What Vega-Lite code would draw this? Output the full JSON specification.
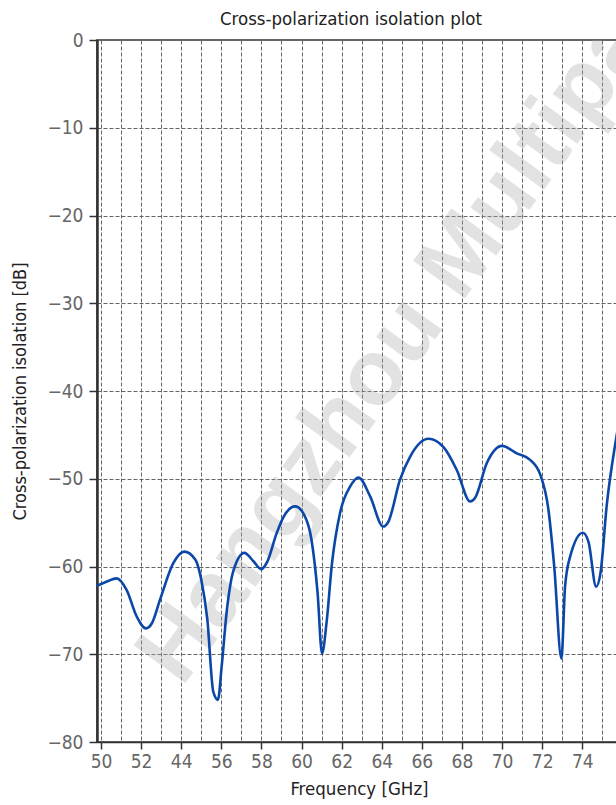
{
  "$schema": "https://vega.github.io/schema/vega-lite/v6.json",
  "width": 524,
  "height": 702,
  "autosize": {"type": "none"},
  "padding": {"left": 97, "top": 40, "right": 0, "bottom": 63},
  "title": {"text": "Cross-polarization isolation plot", "font": "Liberation Sans Narrow, DejaVu Sans Condensed, sans-serif", "fontSize": 18.5, "fontWeight": "normal", "color": "#222222", "anchor": "middle", "offset": 3, "dx": -8},
  "config": {
    "view": {"stroke": "#333333", "strokeWidth": 1.5},
    "font": "Liberation Sans Narrow, DejaVu Sans Condensed, sans-serif"
  },
  "data": {"values": [
    {"f": 49.79, "db": -62.2}, {"f": 50.3, "db": -61.7}, {"f": 50.78, "db": -61.35}, {"f": 51.28, "db": -62.7},
    {"f": 51.78, "db": -65.7}, {"f": 52.24, "db": -67.05}, {"f": 52.53, "db": -66.5}, {"f": 52.94, "db": -63.8},
    {"f": 53.61, "db": -59.6}, {"f": 54.15, "db": -58.3}, {"f": 54.7, "db": -59.2}, {"f": 55.0, "db": -61.5},
    {"f": 55.3, "db": -66.0}, {"f": 55.6, "db": -74.3}, {"f": 55.83, "db": -75.2}, {"f": 56.02, "db": -71.3},
    {"f": 56.27, "db": -65.1}, {"f": 56.6, "db": -60.5}, {"f": 57.15, "db": -58.45}, {"f": 57.6, "db": -59.4},
    {"f": 57.98, "db": -60.3}, {"f": 58.26, "db": -59.6}, {"f": 58.76, "db": -56.2}, {"f": 59.09, "db": -54.4},
    {"f": 59.68, "db": -53.15}, {"f": 60.15, "db": -54.2}, {"f": 60.5, "db": -57.0}, {"f": 60.8, "db": -63.0},
    {"f": 61.02, "db": -69.9}, {"f": 61.26, "db": -66.1}, {"f": 61.51, "db": -59.8}, {"f": 61.92, "db": -53.9},
    {"f": 62.42, "db": -50.9}, {"f": 62.84, "db": -49.85}, {"f": 63.42, "db": -52.0}, {"f": 64.07, "db": -55.45},
    {"f": 64.33, "db": -54.9}, {"f": 64.91, "db": -50.1}, {"f": 65.41, "db": -47.5}, {"f": 66.33, "db": -45.45},
    {"f": 67.08, "db": -46.4}, {"f": 67.74, "db": -49.0}, {"f": 68.41, "db": -52.6}, {"f": 68.65, "db": -52.2},
    {"f": 69.24, "db": -48.2}, {"f": 70.0, "db": -46.25}, {"f": 70.73, "db": -47.1}, {"f": 71.4, "db": -47.85},
    {"f": 71.9, "db": -49.5}, {"f": 72.31, "db": -53.5}, {"f": 72.6, "db": -60.0}, {"f": 72.96, "db": -70.5},
    {"f": 73.14, "db": -62.3}, {"f": 73.39, "db": -58.9}, {"f": 74.03, "db": -56.15}, {"f": 74.31, "db": -57.2},
    {"f": 74.69, "db": -62.3}, {"f": 74.91, "db": -60.7}, {"f": 75.22, "db": -53.0}, {"f": 75.66, "db": -45.8},
    {"f": 75.95, "db": -42.0}
  ]},
  "resolve": {"axis": {"x": "independent", "y": "independent"}},
  "layer": [
    {
      "data": {"values": [{"x": 67.05, "y": -32.9, "t": "Hangzhou Multipath"}]},
      "mark": {"type": "text", "clip": true, "font": "Liberation Sans, Arial, sans-serif", "fontSize": 93, "fontWeight": "bold", "angle": -54, "align": "center", "baseline": "alphabetic", "color": "#a8a8a8", "opacity": 0.32},
      "encoding": {
        "x": {"field": "x", "type": "quantitative", "scale": {"domain": [49.8, 75.93], "nice": false, "zero": false},
          "axis": {"orient": "bottom", "values": [50,51,52,53,54,55,56,57,58,59,60,61,62,63,64,65,66,67,68,69,70,71,72,73,74,75], "grid": true, "gridDash": [4, 2], "gridColor": "#666666", "gridWidth": 1, "gridOpacity": 1, "labels": false, "ticks": false, "domain": false, "title": null}},
        "y": {"field": "y", "type": "quantitative", "scale": {"domain": [-80, 0], "nice": false, "zero": false},
          "axis": {"orient": "left", "values": [-80,-70,-60,-50,-40,-30,-20,-10,0], "grid": true, "gridDash": [4, 2], "gridColor": "#666666", "gridWidth": 1, "gridOpacity": 1, "labels": false, "ticks": false, "domain": false, "title": null}},
        "text": {"field": "t"}
      }
    },
    {
      "mark": {"type": "line", "interpolate": "monotone", "color": "#0a47a9", "strokeWidth": 2.6, "clip": true},
      "encoding": {
        "x": {"field": "f", "type": "quantitative", "scale": {"domain": [49.8, 75.93], "nice": false, "zero": false},
          "axis": {"orient": "bottom", "values": [50,52,54,56,58,60,62,64,66,68,70,72,74], "labelExpr": "datum.value == 54 ? '44' : datum.label", "grid": false,
            "domainColor": "#333333", "domainWidth": 1.5, "tickColor": "#333333", "tickWidth": 1.5, "tickSize": 7,
            "labelFontSize": 19, "labelColor": "#666666", "labelPadding": 3,
            "title": "Frequency [GHz]", "titleFontSize": 18.5, "titleFontWeight": "normal", "titleColor": "#222222", "titlePadding": 8}},
        "y": {"field": "db", "type": "quantitative", "scale": {"domain": [-80, 0], "nice": false, "zero": false},
          "axis": {"orient": "left", "values": [-80,-70,-60,-50,-40,-30,-20,-10,0], "grid": false,
            "domainColor": "#333333", "domainWidth": 2.5, "tickColor": "#333333", "tickWidth": 1.5, "tickSize": 8,
            "labelFontSize": 19, "labelColor": "#666666", "labelPadding": 6,
            "title": "Cross-polarization isolation [dB]", "titleFontSize": 18, "titleFontWeight": "normal", "titleColor": "#222222", "titlePadding": 17}}
      }
    }
  ]
}
